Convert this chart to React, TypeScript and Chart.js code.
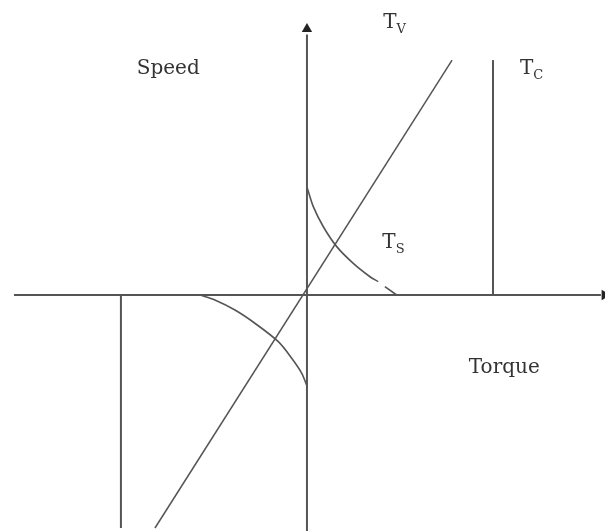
import React, { useEffect, useRef } from "react";
import { Chart, registerables } from "chart.js";

Chart.register(...registerables);

// Data units: torque on x (Coulomb level = 1), speed on y
const horizontalAxis = [{ x: -1.575, y: 0 }, { x: 1.58, y: 0 }];
const verticalAxis = [{ x: 0, y: -1.28 }, { x: 0, y: 1.4 }];
const arrowUp = [{ x: 0, y: 1.43 }];
const arrowRight = [{ x: 1.6, y: 0 }];
const viscousLine = [{ x: -0.817, y: -1.253 }, { x: 0.78, y: 1.263 }];
const coulombPositive = [{ x: 1, y: 0 }, { x: 1, y: 1.263 }];
const coulombNegative = [{ x: -1, y: 0 }, { x: -1, y: -1.253 }];
const stribeckPositive = [
  { x: 0.002, y: 0.574 },
  { x: 0.034, y: 0.475 },
  { x: 0.088, y: 0.367 },
  { x: 0.16, y: 0.26 },
  { x: 0.249, y: 0.17 },
  { x: 0.339, y: 0.098 },
  { x: 0.383, y: 0.072 },
];
const stribeckPositiveDash = [{ x: 0.419, y: 0.045 }, { x: 0.482, y: 0.0 }];
const stribeckNegative = [
  { x: -0.575, y: 0 },
  { x: -0.495, y: -0.027 },
  { x: -0.387, y: -0.081 },
  { x: -0.28, y: -0.152 },
  { x: -0.154, y: -0.251 },
  { x: -0.082, y: -0.34 },
  { x: -0.028, y: -0.421 },
  { x: -0.002, y: -0.484 },
];
const labelTexts = ["Speed", "Torque", "T", "T", "T"];
const labelSubs = ["", "", "V", "C", "S"];
const labelX = [-0.915, 0.87, 0.41, 1.145, 0.405];
const labelY = [1.19, -0.42, 1.435, 1.19, 0.255];

const LINE = "#555555";

const labelPlugin = {
  id: "labels",
  afterDatasetsDraw(chart: any) {
    const { ctx, scales } = chart;
    ctx.save();
    ctx.fillStyle = "#333333";
    ctx.textBaseline = "alphabetic";
    ctx.textAlign = "left";
    labelTexts.forEach((t, i) => {
      const px = scales.x.getPixelForValue(labelX[i]);
      const py = scales.y.getPixelForValue(labelY[i]);
      ctx.font = "20px 'DejaVu Serif'";
      ctx.fillText(t, px, py);
      if (labelSubs[i]) {
        const w = ctx.measureText(t).width;
        ctx.font = "13px 'DejaVu Serif'";
        ctx.fillText(labelSubs[i], px + w, py + 5);
      }
    });
    ctx.restore();
  },
};

const bgPlugin = {
  id: "bg",
  beforeDraw(chart: any) {
    const { ctx, width, height } = chart;
    ctx.save();
    ctx.fillStyle = "#ffffff";
    ctx.fillRect(0, 0, width, height);
    ctx.restore();
  },
};

export default function App() {
  const ref = useRef<HTMLCanvasElement>(null);
  useEffect(() => {
    if (!ref.current) return;
    const line = (data: any, width: number, dash: number[] = []) => ({
      data,
      showLine: true,
      borderColor: LINE,
      borderWidth: width,
      borderDash: dash,
      pointRadius: 0,
      fill: false,
      tension: 0,
    });
    const curve = (data: any) => ({ ...line(data, 1.6), tension: 0.3 });
    const chart = new Chart(ref.current, {
      type: "scatter",
      data: {
        datasets: [
          line(horizontalAxis, 2),
          line(verticalAxis, 2),
          line(viscousLine, 1.5),
          line(coulombPositive, 2),
          line(coulombNegative, 2),
          curve(stribeckPositive),
          line(stribeckPositiveDash, 1.6),
          curve(stribeckNegative),
          {
            data: arrowUp,
            pointStyle: "triangle",
            pointRadius: 6,
            backgroundColor: "#222",
            borderColor: "#222",
            borderWidth: 0,
          },
          {
            data: arrowRight,
            pointStyle: "triangle",
            rotation: 90,
            pointRadius: 6,
            backgroundColor: "#222",
            borderColor: "#222",
            borderWidth: 0,
          },
        ] as any,
      },
      options: {
        animation: false,
        responsive: false,
        layout: { padding: 0, autoPadding: false },
        plugins: { legend: { display: false }, tooltip: { enabled: false } },
        scales: {
          x: { type: "linear", min: -1.65, max: 1.602, display: false },
          y: { type: "linear", min: -1.269, max: 1.586, display: false },
        },
      },
      plugins: [bgPlugin, labelPlugin],
    });
    return () => chart.destroy();
  }, []);
  return (
    <div style={{ position: "absolute", left: 0, top: 0, width: 605, height: 531, background: "#fff" }}>
      <canvas ref={ref} width={605} height={531} />
    </div>
  );
}
